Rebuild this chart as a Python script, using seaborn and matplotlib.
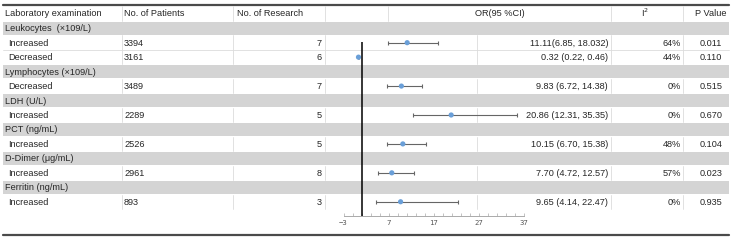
import matplotlib
matplotlib.use("Agg")
import matplotlib.pyplot as plt
import seaborn as sns
import pandas as pd
from matplotlib.ticker import FixedLocator

# 表のデータ
groups = ["Leukocytes  (×109/L)", "Lymphocytes (×109/L)", "LDH (U/L)",
          "PCT (ng/mL)", "D-Dimer (μg/mL)", "Ferritin (ng/mL)"]
group_of_row = [0, 0, 1, 2, 3, 4, 5]
subgroups = ["Increased", "Decreased", "Decreased", "Increased", "Increased", "Increased", "Increased"]
patients = [3394, 3161, 3489, 2289, 2526, 2961, 893]
studies = [7, 6, 7, 5, 5, 8, 3]
or_est = [11.11, 0.32, 9.83, 20.86, 10.15, 7.70, 9.65]
ci_low = [6.85, 0.22, 6.72, 12.31, 6.70, 4.72, 4.14]
ci_high = [18.032, 0.46, 14.38, 35.35, 15.38, 12.57, 22.47]
or_labels = ["11.11(6.85, 18.032)", "0.32 (0.22, 0.46)", "9.83 (6.72, 14.38)",
             "20.86 (12.31, 35.35)", "10.15 (6.70, 15.38)", "7.70 (4.72, 12.57)",
             "9.65 (4.14, 22.47)"]
i2 = ["64%", "44%", "0%", "0%", "48%", "57%", "0%"]
pvals = ["0.011", "0.110", "0.515", "0.670", "0.104", "0.023", "0.935"]
headers = ["Laboratory examination", "No. of Patients", "No. of Research", "OR(95 %CI)", "I$^2$", "P Value"]
xticks = [-3, 7, 17, 27, 37]

sns.set_theme(style="white")
plt.rcParams["font.family"] = ["Liberation Sans", "DejaVu Sans"]
FS = 6.6

# 行の並びを作る (グループ見出し + データ行)
table_rows = []
prev = -1
for i, g in enumerate(group_of_row):
    if g != prev:
        table_rows.append(("group", g))
        prev = g
    table_rows.append(("data", i))

W, H = 740, 244
fig = plt.figure(figsize=(W / 100, H / 100), dpi=100)
bg = fig.add_axes([0, 0, 1, 1])
bg.set_xlim(0, W)
bg.set_ylim(H, 0)
bg.axis("off")

top, hdr_bot, row_h = 5, 21, 14.46
x_l, x_r = 3, 729
grid_c = "#dcdcdc"

# ヘッダー
bg.plot([x_l, x_r], [top, top], color="#4a4a4a", lw=1.6)
hy = (top + hdr_bot) / 2 + 0.5
bg.text(5, hy, headers[0], fontsize=FS, va="center")
bg.text(124, hy, headers[1], fontsize=FS, va="center")
bg.text(237, hy, headers[2], fontsize=FS, va="center")
bg.text(500, hy, headers[3], fontsize=FS, va="center", ha="center")
bg.text(645, hy - 1, headers[4], fontsize=FS, va="center", ha="center")
bg.text(711, hy, headers[5], fontsize=FS, va="center", ha="center")
for xv in [122, 233, 325, 388, 611, 683]:
    bg.plot([xv, xv], [top + 1, hdr_bot], color=grid_c, lw=0.6)

row_pos = []
for k, (kind, idx) in enumerate(table_rows):
    y0 = hdr_bot + k * row_h
    yc = y0 + row_h / 2 + 0.5
    if kind == "group":
        bg.fill_between([x_l, x_r], y0 + 0.5, y0 + row_h - 0.5, color="#d4d4d4", lw=0)
        bg.text(5, yc, groups[idx], fontsize=FS, va="center")
    else:
        row_pos.append(k)
        for xv in [122, 233, 325, 477, 611, 683]:
            bg.plot([xv, xv], [y0, y0 + row_h], color=grid_c, lw=0.6)
        if k + 1 < len(table_rows) and table_rows[k + 1][0] == "data":
            bg.plot([x_l, x_r], [y0 + row_h, y0 + row_h], color=grid_c, lw=0.6)
        bg.text(8, yc, subgroups[idx], fontsize=FS, va="center")
        bg.text(124, yc, str(patients[idx]), fontsize=FS, va="center")
        bg.text(322, yc, str(studies[idx]), fontsize=FS, va="center", ha="right")
        bg.text(608, yc, or_labels[idx], fontsize=FS, va="center", ha="right")
        bg.text(681, yc, i2[idx], fontsize=FS, va="center", ha="right")
        bg.text(711, yc, pvals[idx], fontsize=FS, va="center", ha="center")

bg.plot([x_l, x_r], [235, 235], color="#4a4a4a", lw=1.6)

# フォレストプロット
ax_bot = 216
ax = fig.add_axes([343.5 / W, (H - ax_bot) / H, 180.5 / W, (ax_bot - hdr_bot) / H])
ax.patch.set_alpha(0)
ax.set_xlim(xticks[0], xticks[-1])
ax.set_ylim(-0.5 + (ax_bot - hdr_bot) / row_h, -0.5)

df = pd.DataFrame({"OR": or_est, "low": ci_low, "high": ci_high, "row": row_pos})
ax.errorbar(df["OR"], df["row"], xerr=[df["OR"] - df["low"], df["high"] - df["OR"]],
            fmt="none", ecolor="#666666", elinewidth=0.8, capsize=1.6, capthick=0.8,
            clip_on=False, zorder=2)
sns.scatterplot(data=df, x="OR", y="row", ax=ax, color="#6a9fd8", s=14,
                edgecolor="none", zorder=3, clip_on=False, legend=False)
ax.vlines(1, 0.95, ax.get_ylim()[0], color="black", lw=1.1, zorder=4)

for s in ["top", "left", "right"]:
    ax.spines[s].set_visible(False)
ax.spines["bottom"].set_color("#aaaaaa")
ax.spines["bottom"].set_linewidth(0.7)
ax.xaxis.set_major_locator(FixedLocator(xticks))
ax.xaxis.set_minor_locator(FixedLocator(list(range(xticks[0], xticks[-1] + 1, 2))))
ax.tick_params(axis="x", which="both", direction="in", length=2.5, width=0.5,
               color="#aaaaaa", bottom=True, labelsize=5.2, labelcolor="#555555", pad=3)
for lab in ax.get_xticklabels():
    lab.set_family("DejaVu Sans Mono")
ax.set_yticks([])
ax.set_xlabel("")
ax.set_ylabel("")

fig.savefig("out.png", dpi=100)
